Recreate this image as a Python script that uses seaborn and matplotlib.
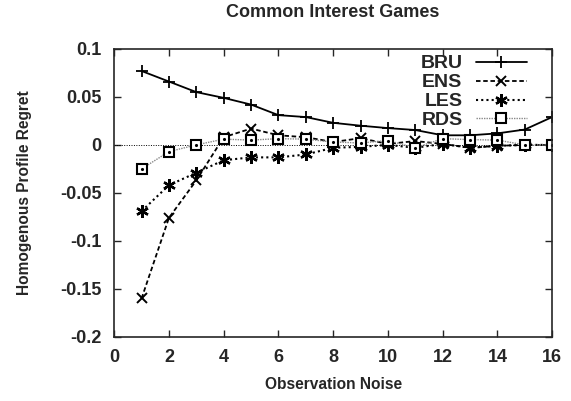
import matplotlib
matplotlib.use("Agg")
import matplotlib.pyplot as plt
import seaborn as sns
import pandas as pd

noise = list(range(1, 17))
bru = [0.077, 0.066, 0.055, 0.049, 0.042, 0.031, 0.029, 0.023, 0.020, 0.0175, 0.0155, 0.010, 0.010, 0.012, 0.016, 0.029]
ens = [-0.160, -0.076, -0.037, 0.008, 0.017, 0.010, 0.008, 0.003, 0.007, 0.001, 0.004, 0.001, -0.003, -0.001, 0.0, 0.0]
les = [-0.069, -0.042, -0.029, -0.016, -0.013, -0.013, -0.010, -0.003, -0.002, 0.0, -0.003, 0.001, -0.003, -0.001, 0.0, 0.0]
rds = [-0.025, -0.007, 0.0, 0.006, 0.005, 0.0065, 0.006, 0.003, 0.002, 0.0045, -0.003, 0.0065, 0.0055, 0.005, 0.0, 0.0]

series_names = ["BRU", "ENS", "LES", "RDS"]
df = pd.DataFrame({"noise": noise, "BRU": bru, "ENS": ens, "LES": les, "RDS": rds})
long = df.melt(id_vars="noise", var_name="method", value_name="regret")

sns.set_style("ticks")
plt.rcParams["font.family"] = ["Liberation Sans", "DejaVu Sans"]
plt.rcParams["font.weight"] = "bold"

fig = plt.figure(figsize=(5.71, 4.01), dpi=100)
ax = fig.add_axes([0.2, 0.16, 0.767, 0.718])

styles = {
    "BRU": dict(color="black", linestyle="-", marker="+", markersize=9, linewidth=1.3,
                markeredgewidth=1.3, markerfacecolor="none", markeredgecolor="black"),
    "ENS": dict(color="black", linestyle=(0, (2.5, 1.5)), marker="x", markersize=7, linewidth=1.3,
                markeredgewidth=1.4, markerfacecolor="none", markeredgecolor="black"),
    "LES": dict(color="black", linestyle=(0, (1, 1.5)), marker=(6, 2, 0), markersize=9, linewidth=1.5,
                markeredgewidth=1.7, markerfacecolor="none", markeredgecolor="black"),
    "RDS": dict(color="#888888", linestyle=(0, (1, 0.8)), marker="s", markersize=7.5, linewidth=1.0,
                markeredgewidth=1.5, markerfacecolor="white", markeredgecolor="black"),
}

ax.axhline(0, color="black", lw=0.7, linestyle=(0, (1, 1.5)), zorder=1)

for name in series_names:
    sub = long[long["method"] == name]
    sns.lineplot(data=sub, x="noise", y="regret", ax=ax, label=name, **styles[name])
    if name == "RDS":
        ax.plot(sub["noise"], sub["regret"], linestyle="none", marker=".", markersize=2.5, color="black")

ax.set_xlim(0, 16)
ax.set_ylim(-0.2, 0.1)
ax.set_xticks(range(0, 17, 2))
ax.set_yticks([-0.2, -0.15, -0.1, -0.05, 0, 0.05, 0.1])
ax.set_yticklabels(["-0.2", "-0.15", "-0.1", "-0.05", "0", "0.05", "0.1"])
ax.tick_params(direction="in", top=True, right=True, length=5, width=1, labelsize=13)
ax.tick_params(axis="x", pad=9)
ax.tick_params(axis="y", pad=9)
for lab in ax.get_xticklabels() + ax.get_yticklabels():
    lab.set_fontweight("bold")
for sp in ax.spines.values():
    sp.set_linewidth(1.2)

ax.set_xlabel("Observation Noise", fontsize=11.2, fontweight="bold", labelpad=8)
ax.set_ylabel("Homogenous Profile Regret", fontsize=11.2, fontweight="bold", labelpad=20)
ax.set_title("Common Interest Games", fontsize=13, fontweight="bold", pad=23)

leg = ax.legend(loc="upper right", frameon=False, markerfirst=False, fontsize=14,
                handlelength=2.6, handletextpad=0.7, labelspacing=0.07,
                borderaxespad=0.0, borderpad=0.3, bbox_to_anchor=(0.955, 1.0))
for t in leg.get_texts():
    t.set_fontweight("bold")

fig.savefig("out.png", dpi=100)
